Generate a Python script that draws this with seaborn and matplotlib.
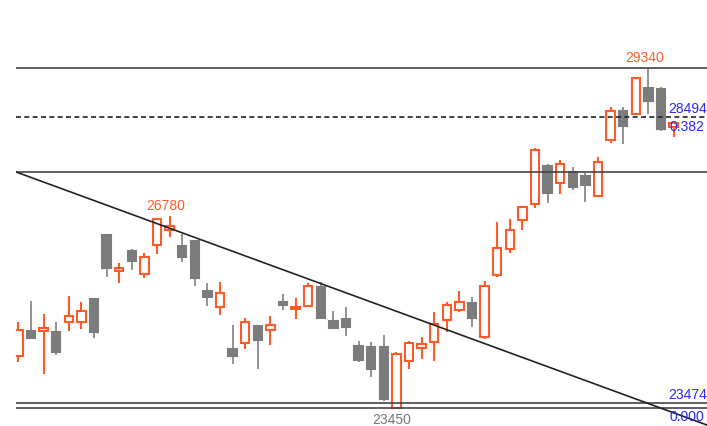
import numpy as np
import pandas as pd
import seaborn as sns
import matplotlib.pyplot as plt

# candle data (one row per bar)
opens = [24367, 24798, 24798, 24781, 24954, 24954, 25351, 26456, 25835, 26180,
         25783, 26284, 26543, 26266, 26353, 25489, 25213, 24487, 24591, 24885,
         24816, 25299, 25178, 25230, 25558, 24971, 25006, 24539, 24522, 24522,
         23470, 24280, 24505, 24608, 24988, 25161, 25282, 24695, 25765, 26214,
         26715, 26992, 27648, 27354, 27544, 27475, 27130, 28097, 28598, 28546,
         28995, 28978, 28321]
highs = [24954, 25316, 25092, 24954, 25403, 25299, 25360, 26460, 25973, 26214,
         26145, 26750, 26780, 26474, 26360, 25627, 25645, 24902, 25023, 24902,
         25057, 25437, 25368, 25627, 25645, 25144, 25213, 24626, 24608, 24729,
         24436, 24626, 24695, 25126, 25299, 25489, 25386, 25662, 26681, 26733,
         26957, 27959, 27682, 27752, 27631, 27527, 27803, 28667, 28667, 29185,
         29340, 29012, 28408]
lows = [24263, 24670, 24056, 24384, 24798, 24833, 24677, 25731, 25627, 25852,
        25714, 26128, 26422, 25990, 25576, 25230, 25075, 24228, 24487, 24142,
        24557, 25161, 25006, 25220, 25015, 24845, 24712, 24263, 24004, 23589,
        23450, 24142, 24315, 24280, 24781, 25126, 24867, 24660, 25731, 26145,
        26543, 26923, 27009, 27164, 27233, 27026, 27120, 28045, 28028, 28540,
        28546, 28252, 28149]
closes = [24816, 24677, 24850, 24436, 25057, 25144, 24781, 25886, 25886, 26007,
          26076, 26733, 26612, 26076, 25714, 25386, 25455, 24367, 24954, 24643,
          24902, 25247, 25213, 25576, 25023, 24850, 24867, 24298, 24142, 23624,
          24401, 24591, 24574, 24919, 25247, 25299, 25023, 25576, 26232, 26543,
          26940, 27924, 27182, 27682, 27285, 27320, 27717, 28598, 28339, 29168,
          28770, 28287, 28391]

# horizontal levels and trend line anchors
solid_levels = [29340, 27550, 23560, 23474]
dashed_level = 28494
trend_idx = [0, 52]
trend_price = [27530, 23386]

df = pd.DataFrame({"open": opens, "high": highs, "low": lows, "close": closes})
df["idx"] = np.arange(len(df))
df["up"] = df["close"] >= df["open"]

UP = "#ff5a28"
DOWN = "#7c7c7c"
LINE = "#444444"
BLUE = "#2a2aff"

sns.set_theme(style="white")
plt.rcParams["font.family"] = ["Liberation Sans", "DejaVu Sans"]

fig = plt.figure(figsize=(7.07, 4.27), dpi=100)
ax = fig.add_axes([16 / 707, 0, 691 / 707, 1])

w = 0.66
for _, r in df.iterrows():
    c = UP if r["up"] else DOWN
    ax.vlines(r["idx"], r["low"], r["high"], color=c if r["up"] else "#8a8a8a",
              lw=1.5 if r["up"] else 1.3, zorder=2)
    lo, hi = sorted([r["open"], r["close"]])
    ax.bar(r["idx"], max(hi - lo, 12), bottom=lo, width=w,
           color="white" if r["up"] else DOWN,
           edgecolor=c, linewidth=1.5, zorder=3)

for lv in solid_levels:
    ax.axhline(lv, color=LINE, lw=1.2, zorder=4)
ax.axhline(dashed_level, color="#222222", lw=1.2, ls=(0, (3, 2)), zorder=4)
ax.axline((trend_idx[0], trend_price[0]), (trend_idx[1], trend_price[1]),
          color="#222222", lw=1.2, zorder=4)

# price labels
hi_i = int(df["high"].idxmax())
lo_i = int(df["low"].idxmin())
ax.annotate(f"{df['high'][hi_i]}", (hi_i - 0.3, df["high"][hi_i]),
            xytext=(0, 3), textcoords="offset points",
            ha="center", va="bottom", color=UP, fontsize=10)
ax.annotate("26780", (12 - 0.3, 26780), xytext=(0, 3), textcoords="offset points",
            ha="center", va="bottom", color=UP, fontsize=10)
ax.annotate(f"{df['low'][lo_i]}", (lo_i - 0.35, df["low"][lo_i]),
            xytext=(0, -2), textcoords="offset points",
            ha="center", va="top", color="#777777", fontsize=10)

ax.text(51.6, dashed_level + 30, f"{dashed_level}", color=BLUE, fontsize=10,
        ha="left", va="bottom", zorder=5)
ax.text(51.7, dashed_level - 30, "0.382", color=BLUE, fontsize=10,
        ha="left", va="top", zorder=5)
ax.text(51.6, 23560 + 30, f"{solid_levels[3]}", color=BLUE, fontsize=10,
        ha="left", va="bottom", zorder=5)
ax.text(51.7, 23474 - 20, "0.000", color=BLUE, fontsize=10,
        ha="left", va="top", zorder=5)

ax.set_xlim(-0.19, 54.65)
ax.set_ylim(23158, 30532)
ax.axis("off")

fig.savefig("out.png", dpi=100)
